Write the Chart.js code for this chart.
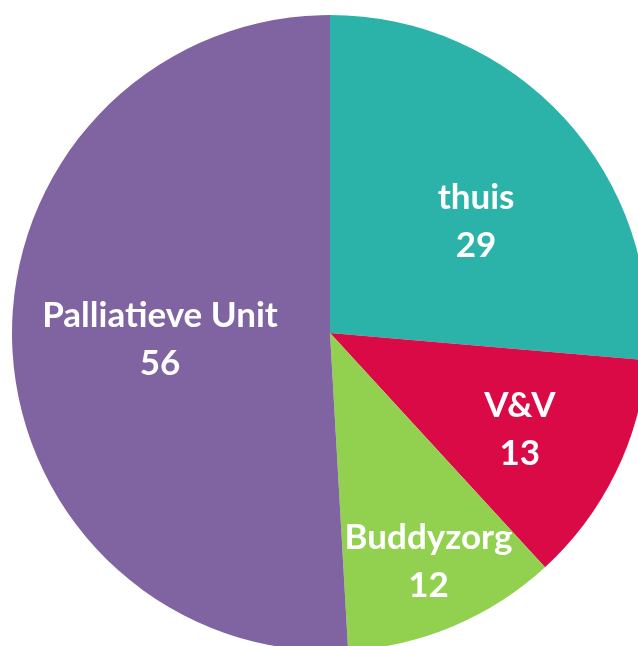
<!DOCTYPE html>
<html>
<head>
<meta charset="utf-8">
<script src="https://cdn.jsdelivr.net/npm/chart.js@4.4.1/dist/chart.umd.min.js"></script>
<style>
  html, body { margin: 0; padding: 0; background: #ffffff; overflow: hidden; width: 638px; height: 646px; }
  #wrap { position: absolute; left: 12px; top: 15px; width: 636px; height: 636px; }
</style>
</head>
<body>
<div id="wrap"><canvas id="c" width="636" height="636"></canvas></div>
<script>
const categories = ["thuis", "V&V", "Buddyzorg", "Palliatieve Unit"];
const values = [29, 13, 12, 56];
const colors = ["#2bb3aa", "#da0a47", "#92d050", "#8064a2"];

// label placement: fraction along slice angle, fraction of radius
const labelPlacement = [
  { t: 0.556, r: 0.577 },
  { t: 0.52, r: 0.67 },
  { t: 0.49, r: 0.783 },
  { t: 0.496, r: 0.535 }
];

const sliceLabels = {
  id: 'sliceLabels',
  afterDatasetsDraw(chart) {
    const ctx = chart.ctx;
    const meta = chart.getDatasetMeta(0);
    ctx.save();
    ctx.fillStyle = '#ffffff';
    ctx.font = 'bold 35px Lato, "Open Sans", sans-serif';
    ctx.textAlign = 'center';
    ctx.textBaseline = 'middle';
    meta.data.forEach((arc, i) => {
      const p = arc.getProps(['x', 'y', 'startAngle', 'endAngle', 'outerRadius'], true);
      const pl = labelPlacement[i];
      const a = p.startAngle + (p.endAngle - p.startAngle) * pl.t;
      const rr = p.outerRadius * pl.r;
      const cx = p.x + Math.cos(a) * rr;
      const cy = p.y + Math.sin(a) * rr;
      ctx.fillText(categories[i], cx, cy - 24);
      ctx.fillText(String(values[i]), cx, cy + 24);
    });
    ctx.restore();
  }
};

new Chart(document.getElementById('c'), {
  type: 'pie',
  data: {
    labels: categories,
    datasets: [{
      data: values,
      backgroundColor: colors,
      borderWidth: 0,
      hoverOffset: 0
    }]
  },
  options: {
    responsive: false,
    devicePixelRatio: 1,
    animation: false,
    events: [],
    layout: { padding: 0 },
    plugins: {
      legend: { display: false },
      tooltip: { enabled: false }
    }
  },
  plugins: [sliceLabels]
});
</script>
</body>
</html>
